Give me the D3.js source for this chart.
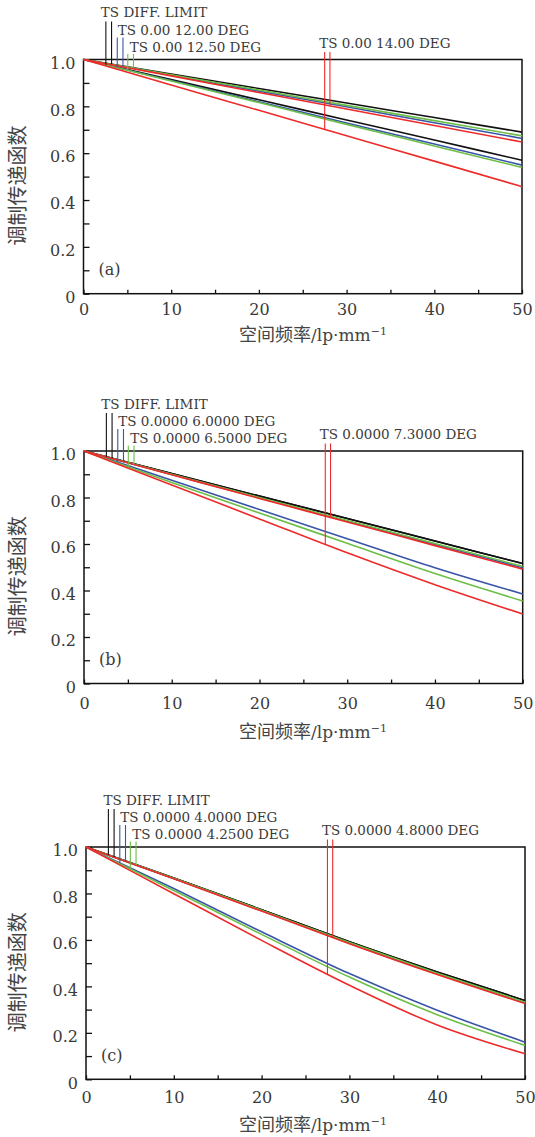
<!DOCTYPE html>
<html lang="zh">
<head>
    <meta charset="UTF-8">
    <title>MTF curves</title>
    <script src="https://d3js.org/d3.v7.min.js"></script>
    <style>
        body {
            margin: 0;
            background: #fff;
        }
        .tick text {
            font-family: "DejaVu Serif", serif;
            font-size: 16px;
            fill: #3a3a3a;
        }
        .tick line {
            stroke: #111;
            stroke-width: 1.3;
        }
        .legend {
            font-family: "DejaVu Serif", serif;
            font-size: 13.5px;
            fill: #3a3a3a;
        }
        .letter {
            font-family: "DejaVu Serif", serif;
            font-size: 16px;
            fill: #3a3a3a;
        }
    </style>
</head>
<body>
<svg id="chart" width="535" height="1137"></svg>
<script>
    // spatial frequency (lp/mm) where values were read
    const freq = [0, 10, 20, 30, 40, 50]

    // (a)  S = upper curve, T = lower curve
    const aDiffS = [1, 0.938, 0.876, 0.814, 0.752, 0.690]
    const aDiffT = [1, 0.914, 0.828, 0.742, 0.656, 0.570]
    const a12S = [1, 0.933, 0.865, 0.798, 0.730, 0.663]
    const a12T = [1, 0.910, 0.820, 0.729, 0.639, 0.549]
    const a125S = [1, 0.935, 0.870, 0.804, 0.739, 0.674]
    const a125T = [1, 0.908, 0.816, 0.723, 0.631, 0.539]
    const a14S = [1, 0.930, 0.859, 0.789, 0.718, 0.648]
    const a14T = [1, 0.891, 0.783, 0.674, 0.566, 0.457]

    // (b)
    const bDiffS = [1, 0.903, 0.806, 0.710, 0.613, 0.516]
    const bDiffT = [1, 0.903, 0.806, 0.710, 0.613, 0.516]
    const b6S = [1, 0.899, 0.798, 0.698, 0.598, 0.498]
    const b6T = [1, 0.874, 0.748, 0.623, 0.498, 0.385]
    const b65S = [1, 0.900, 0.800, 0.701, 0.602, 0.504]
    const b65T = [1, 0.865, 0.733, 0.603, 0.473, 0.355]
    const b73S = [1, 0.898, 0.796, 0.695, 0.593, 0.492]
    const b73T = [1, 0.854, 0.708, 0.562, 0.425, 0.299]

    // (c)
    const cDiffS = [1, 0.866, 0.730, 0.592, 0.462, 0.339]
    const cDiffT = [1, 0.866, 0.730, 0.592, 0.462, 0.339]
    const c4S = [1, 0.864, 0.726, 0.586, 0.454, 0.329]
    const c4T = [1, 0.821, 0.635, 0.455, 0.297, 0.160]
    const c425S = [1, 0.865, 0.728, 0.589, 0.457, 0.332]
    const c425T = [1, 0.813, 0.624, 0.440, 0.278, 0.146]
    const c48S = [1, 0.863, 0.724, 0.584, 0.451, 0.326]
    const c48T = [1, 0.799, 0.598, 0.405, 0.234, 0.110]

    // frequencies of the T / S marker pairs drawn under each legend label
    const markerFreq = [[2.55, 3.2], [3.85, 4.5], [5.05, 5.7], [27.5, 28.1]]

    const labelsA = ["TS DIFF. LIMIT", "TS 0.00 12.00 DEG", "TS 0.00 12.50 DEG", "TS 0.00 14.00 DEG"]
    const labelsB = ["TS DIFF. LIMIT", "TS 0.0000 6.0000 DEG", "TS 0.0000 6.5000 DEG", "TS 0.0000 7.3000 DEG"]
    const labelsC = ["TS DIFF. LIMIT", "TS 0.0000 4.0000 DEG", "TS 0.0000 4.2500 DEG", "TS 0.0000 4.8000 DEG"]

    const xTicks = d3.range(0, 51, 5)
    const yTicks = d3.range(0, 11).map(d => d / 10)

    const colors = ["#111111", "#3a55a8", "#6cbf46", "#ee2a2a"]

    let svg = d3.select("#chart")

    function drawPanel(box, series, labels, letter) {
        let x = d3.scaleLinear().domain([0, 50]).range([box.left, box.right])
        let y = d3.scaleLinear().domain([0, 1]).range([box.bottom, box.top])
        let g = svg.append("g")

        // axes, ticks pointing inward
        let xAxis = d3.axisBottom(x)
            .tickValues(xTicks)
            .tickSize(-4)
            .tickPadding(box.xPad)
            .tickFormat(d => d % 10 === 0 ? d : "")
        g.append("g")
            .attr("transform", `translate(0,${box.bottom})`)
            .call(xAxis)
            .select(".domain").remove()

        let yAxis = d3.axisLeft(y)
            .tickValues(yTicks)
            .tickSize(-6)
            .tickPadding(8)
            .tickFormat(d => {
                let k = Math.round(d * 10)
                if (k === 0) return "0"
                return k % 2 === 0 ? d.toFixed(1) : ""
            })
        g.append("g")
            .attr("transform", `translate(${box.left},0)`)
            .call(yAxis)
            .call(a => a.select(".domain").remove())
            .selectAll("text").attr("dy", "0.55em")

        // frame
        g.append("rect")
            .attr("x", box.left)
            .attr("y", box.top)
            .attr("width", box.right - box.left)
            .attr("height", box.bottom - box.top)
            .attr("fill", "none")
            .attr("stroke", "#111")
            .attr("stroke-width", 1.5)

        let line = d3.line()
            .x((d, i) => x(freq[i]))
            .y(d => y(d))
            .curve(d3.curveMonotoneX)

        series.forEach((pair, k) => {
            pair.forEach(vals => {
                g.append("path")
                    .attr("d", line(vals))
                    .attr("fill", "none")
                    .attr("stroke", colors[k])
                    .attr("stroke-width", 1.6)
            })
        })

        // legend markers: left line reaches the T curve, right line the S curve
        let interp = (vals, f) => {
            let i = Math.min(Math.floor(f / 10), freq.length - 2)
            let t = (f - freq[i]) / (freq[i + 1] - freq[i])
            return vals[i] + (vals[i + 1] - vals[i]) * t
        }
        let labelOffset = [-47, -29.5, -12.5, -16.5]
        let startOffset = [-38, -22, -5.5, -7.5]
        let labelShift = [-5, 0.5, 2, -5.5]

        series.forEach((pair, k) => {
            let [sVals, tVals] = pair
            let targets = [tVals, sVals]
            markerFreq[k].forEach((f, j) => {
                g.append("line")
                    .attr("x1", x(f)).attr("x2", x(f))
                    .attr("y1", box.top + startOffset[k])
                    .attr("y2", y(interp(targets[j], f)))
                    .attr("stroke", colors[k])
                    .attr("stroke-width", 1.1)
            })
            g.append("text")
                .attr("class", "legend")
                .attr("x", x(markerFreq[k][0]) + labelShift[k])
                .attr("y", box.top + labelOffset[k])
                .attr("dy", "0.36em")
                .text(labels[k])
        })

        g.append("text")
            .attr("class", "letter")
            .attr("x", box.left + 15)
            .attr("y", box.bottom - 24)
            .attr("dy", "0.35em")
            .text(letter)

        // y title
        g.append("text")
            .attr("transform", `translate(18,${(box.top + box.bottom) / 2 + 9}) rotate(-90)`)
            .attr("text-anchor", "middle")
            .attr("dy", "0.35em")
            .style("font-family", "'Noto Sans CJK SC', sans-serif")
            .style("font-size", "20px")
            .style("fill", "#444")
            .text("调制传递函数")

        // x title
        let xt = g.append("text")
            .attr("x", 313)
            .attr("y", box.bottom + box.titleDy)
            .attr("dy", "0.35em")
            .attr("text-anchor", "middle")
            .style("fill", "#444")
        xt.append("tspan")
            .style("font-family", "'Noto Sans CJK SC', sans-serif")
            .style("font-size", "18px")
            .text("空间频率")
        xt.append("tspan")
            .style("font-family", "'DejaVu Serif', serif")
            .style("font-size", "17px")
            .text("/lp·mm")
        xt.append("tspan")
            .attr("dy", "-0.55em")
            .style("font-family", "'DejaVu Serif', serif")
            .style("font-size", "11px")
            .text("−1")
    }

    drawPanel({top: 59.5, bottom: 293.7, left: 83.5, right: 522, xPad: 10, titleDy: 42},
        [[aDiffS, aDiffT], [a12S, a12T], [a125S, a125T], [a14S, a14T]], labelsA, "(a)")
    drawPanel({top: 451, bottom: 683.5, left: 84, right: 522.7, xPad: 14, titleDy: 49},
        [[bDiffS, bDiffT], [b6S, b6T], [b65S, b65T], [b73S, b73T]], labelsB, "(b)")
    drawPanel({top: 847, bottom: 1079.3, left: 86, right: 525, xPad: 12, titleDy: 46},
        [[cDiffS, cDiffT], [c4S, c4T], [c425S, c425T], [c48S, c48T]], labelsC, "(c)")
</script>
</body>
</html>
